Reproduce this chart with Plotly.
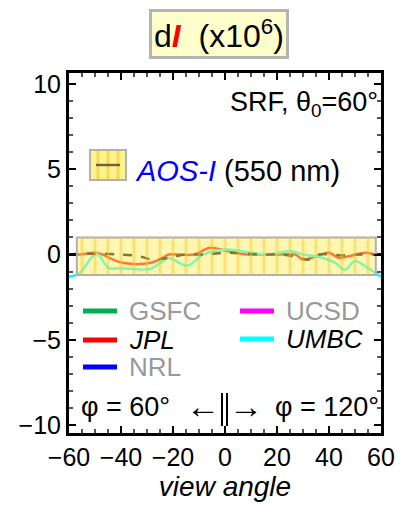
import plotly.graph_objects as go

# ---- data ----
jpl_x = [-60, -56, -50.5, -47, -43, -39, -29, -24, -21.7, -12, -5.7, 0.8, 8.4, 13, 20, 27, 30, 33, 37, 40, 44, 47.6, 54, 58, 60]
jpl_y = [0, 0, 0.1, 0, -0.3, -0.5, -0.5, -0.2, 0, 0, 0.4, 0.2, 0, 0, 0, 0, -0.3, -0.2, 0, 0.1, -0.2, -0.1, 0.1, 0, 0]

umbc_x = [-60, -56, -49.5, -44.6, -40, -29, -24, -21.7, -14.5, -8.4, 0.8, 10, 17, 25, 30, 35, 42.6, 46, 50, 55, 58, 60]
umbc_y = [-1.3, -1.1, 0.05, -0.8, -0.8, -0.85, -0.4, -0.2, -0.65, 0, 0.3, 0.1, 0, 0.2, 0, -0.1, -0.5, -0.9, -0.4, -0.8, -1.1, -1.3]

aos_x = [-60, -50, -40, -33, -28, -22, -15, -8, 0, 8, 15, 22, 29, 32, 36, 45, 52, 60]
aos_y = [0, 0.05, 0, -0.1, -0.3, -0.2, 0, 0, 0.1, 0.05, 0, 0, -0.2, -0.3, 0, -0.05, 0, 0]

band_x = [-57, 58]
band_lo = -1.2
band_hi = 1.0
stripe_x = [-55, -50, -45, -40, -35, -30, -25, -20, -15, -10, -5, 0, 5, 10, 15, 20, 25, 30, 35, 40, 45, 50, 55]

x_ticks = [-60, -40, -20, 0, 20, 40, 60]
y_ticks = [-10, -5, 0, 5, 10]

FONT = "Liberation Sans, Arial, sans-serif"

fig = go.Figure()
fig.add_trace(go.Scatter(x=jpl_x, y=jpl_y, mode="lines", line=dict(color="red", width=2.5, shape="spline"), hoverinfo="skip"))
fig.add_trace(go.Scatter(x=umbc_x, y=umbc_y, mode="lines", line=dict(color="cyan", width=2.5, shape="spline"), hoverinfo="skip"))
fig.add_trace(go.Scatter(x=aos_x, y=aos_y, mode="lines", line=dict(color="black", width=2.5, dash="dash", shape="spline"), hoverinfo="skip"))

# uncertainty band (semi-transparent, over lines)
fig.add_trace(go.Scatter(
    x=[band_x[0], band_x[1], band_x[1], band_x[0], band_x[0]],
    y=[band_lo, band_lo, band_hi, band_hi, band_lo],
    mode="lines", fill="toself", fillcolor="rgba(255,240,100,0.5)",
    line=dict(color="#b0b0b0", width=2), hoverinfo="skip"))
sx, sy = [], []
for s in stripe_x:
    sx += [s, s, None]
    sy += [band_lo, band_hi, None]
fig.add_trace(go.Scatter(x=sx, y=sy, mode="lines", line=dict(color="rgba(240,200,50,0.45)", width=3), hoverinfo="skip"))

# page pixel -> paper coordinate (plot area spans page x 69..381, y 73..433)
def px2x(px):
    return (px - 69) / 312

def py2y(py):
    return (433 - py) / 360

shapes = []
annotations = []

def txt(x, y, text, size, color="black", xanchor="center"):
    annotations.append(dict(x=px2x(x), y=py2y(y), xref="paper", yref="paper", showarrow=False,
                            xanchor=xanchor, yanchor="middle", text=text,
                            font=dict(family=FONT, size=size, color=color)))

# title box
annotations.append(dict(
    x=px2x(219), y=py2y(34), xref="paper", yref="paper", showarrow=False,
    xanchor="center", yanchor="middle",
    text="d<b><i><span style='color:red'>I</span></i></b>  (x10<sup>6</sup>)",
    font=dict(family=FONT, size=32, color="black"),
    bgcolor="#ffffcc", bordercolor="#b4b4b4", borderwidth=3, borderpad=2))

txt(380, 104, "SRF, θ<sub>0</sub>=60°", 27, xanchor="right")

# AOS-I legend sample
shapes.append(dict(type="rect", xref="paper", yref="paper", x0=px2x(90), x1=px2x(126), y0=py2y(180), y1=py2y(150),
                   fillcolor="#fff38e", line=dict(color="#b0b0b0", width=2), layer="above"))
for sp in [98, 108, 118]:
    shapes.append(dict(type="line", xref="paper", yref="paper", x0=px2x(sp), x1=px2x(sp), y0=py2y(179), y1=py2y(151),
                       line=dict(color="rgba(240,200,50,0.6)", width=3), layer="above"))
shapes.append(dict(type="line", xref="paper", yref="paper", x0=px2x(96), x1=px2x(120), y0=py2y(165), y1=py2y(165),
                   line=dict(color="#6e6440", width=2.5), layer="above"))
txt(133, 171, "<i><span style='color:blue'>AOS-I</span></i> (550 nm)", 29, xanchor="left")

# model legend
leg = [
    ("GSFC", "#00b050", 83, 311, "#999999", False),
    ("JPL", "red", 83, 340, "black", True),
    ("NRL", "blue", 83, 367, "#999999", False),
    ("UCSD", "magenta", 240, 311, "#999999", False),
    ("UMBC", "cyan", 240, 339, "black", True),
]
for name, col, lx, ly, tcol, ital in leg:
    shapes.append(dict(type="line", xref="paper", yref="paper", x0=px2x(lx), x1=px2x(lx + 34), y0=py2y(ly), y1=py2y(ly),
                       line=dict(color=col, width=5)))
    txt(lx + 44, ly, f"<i>{name}</i>" if ital else name, 26, color=tcol, xanchor="left")

# bottom phi labels
txt(79, 407, "φ = 60°", 27, xanchor="left")
txt(203, 406, "←", 34)
txt(246, 406, "→", 34)
for bx in [222, 227]:
    shapes.append(dict(type="line", xref="paper", yref="paper", x0=px2x(bx), x1=px2x(bx), y0=py2y(393), y1=py2y(426),
                       line=dict(color="black", width=2)))
txt(381, 407, "φ = 120°", 27, xanchor="right")

# the page body has an 8px margin, so the figure is offset by (8, 8)
fig.update_layout(
    width=395, height=511,
    margin=dict(l=61, r=22, t=65, b=86, autoexpand=False),
    paper_bgcolor="white", plot_bgcolor="white",
    showlegend=False,
    shapes=shapes, annotations=annotations,
    font=dict(family=FONT, size=25, color="black"),
)
fig.update_xaxes(
    range=[-60, 60], tickvals=x_ticks, ticks="inside", ticklen=7, tickwidth=2, tickcolor="black",
    showline=True, linewidth=3, linecolor="black", mirror="allticks", showgrid=False, zeroline=False,
    minor=dict(dtick=5, ticks="inside", ticklen=4, tickwidth=1.5, tickcolor="#555"),
    tickfont=dict(family=FONT, size=25), automargin=False,
    title=dict(text="<i>view angle</i>", font=dict(family=FONT, size=28), standoff=2),
)
fig.update_yaxes(
    range=[-10.47, 10.65], tickvals=y_ticks, ticks="inside", ticklen=7, tickwidth=2, tickcolor="black",
    showline=True, linewidth=3, linecolor="black", mirror="allticks", showgrid=False, zeroline=False,
    minor=dict(dtick=1, ticks="inside", ticklen=4, tickwidth=1.5, tickcolor="#555"),
    tickfont=dict(family=FONT, size=25), automargin=False,
)

fig.write_html("out.html")
